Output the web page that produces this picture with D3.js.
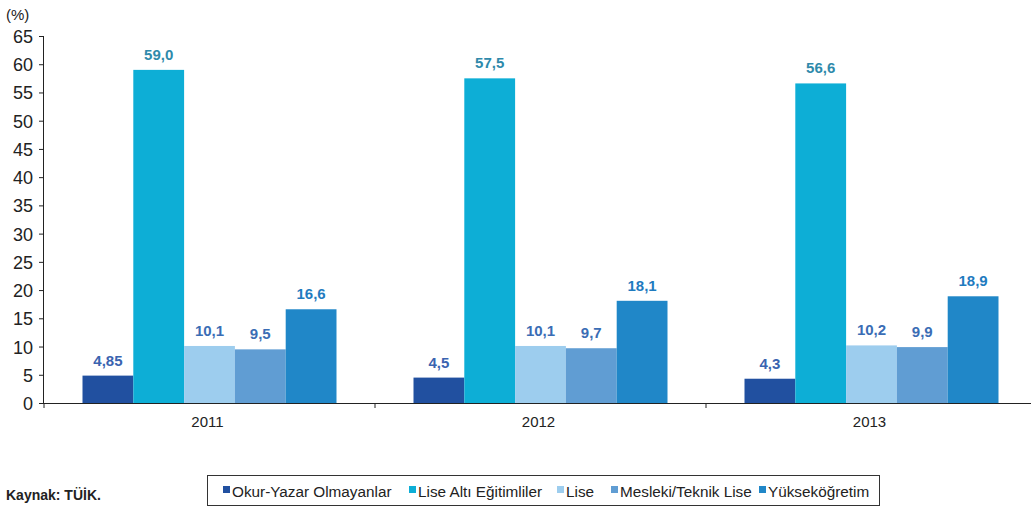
<!DOCTYPE html>
<html><head><meta charset="utf-8">
<script src="https://cdn.jsdelivr.net/npm/d3@7"></script>
<style>body{margin:0;background:#fff;}svg{display:block;font-family:"Liberation Sans",Arial,sans-serif;}</style>
</head><body>
<svg id="c" width="1031" height="508"></svg>
<script>
const years = ["2011","2012","2013"];
const seriesNames = ["Okur-Yazar Olmayanlar","Lise Altı Eğitimliler","Lise","Mesleki/Teknik Lise","Yükseköğretim"];
const okur = [4.85, 4.5, 4.3];
const liseAlti = [59.0, 57.5, 56.6];
const lise = [10.1, 10.1, 10.2];
const mesleki = [9.5, 9.7, 9.9];
const yuksek = [16.6, 18.1, 18.9];
const labelText = [["4,85","4,5","4,3"],["59,0","57,5","56,6"],["10,1","10,1","10,2"],["9,5","9,7","9,9"],["16,6","18,1","18,9"]];
const yTicks = [0,5,10,15,20,25,30,35,40,45,50,55,60,65];
const colors = ["#2150a0","#0daed6","#9dcdee","#609dd3","#2087c8"];
const labelColors = ["#3a64b0","#2f8aab","#3a6db5","#3a6db5","#1f7bbf"];
const series = [okur, liseAlti, lise, mesleki, yuksek];

const svg = d3.select("#c");
const x0 = d3.scaleBand().domain(years).range([44,1037]).paddingInner(0).paddingOuter(0);
const y = d3.scaleLinear().domain([0,65]).range([403,36]);
const x1 = d3.scaleBand().domain(d3.range(5)).range([38.5, x0.bandwidth()-38.5]);

// y axis
const yAx = svg.append("g").attr("transform","translate(44,0)")
  .call(d3.axisLeft(y).tickValues(yTicks).tickSize(5).tickPadding(6));
yAx.selectAll("text").attr("font-size",18).attr("fill","#222").attr("dy","0.36em");
yAx.selectAll("line,path").attr("stroke","#222");
yAx.select("path").attr("d","M-0.5,36V403.5");

svg.append("text").attr("x",6).attr("y",20).attr("font-size",15).attr("fill","#222").text("(%)");

// bars
series.forEach((vals,si)=>{
  const g = svg.append("g");
  g.selectAll("rect").data(years).join("rect")
    .attr("x",d=>x0(d)+x1(si)).attr("width",x1.bandwidth())
    .attr("y",(d,i)=>y(vals[i])).attr("height",(d,i)=>y(0)-y(vals[i]))
    .attr("fill",colors[si]);
  g.selectAll("text").data(years).join("text")
    .attr("x",d=>x0(d)+x1(si)+x1.bandwidth()/2)
    .attr("y",(d,i)=>y(vals[i])-10)
    .attr("text-anchor","middle").attr("font-size",15).attr("font-weight","bold")
    .attr("fill",labelColors[si]).text((d,i)=>labelText[si][i]);
});

// x axis
const xAx = svg.append("g").attr("transform","translate(0,403)");
xAx.append("line").attr("x1",44).attr("x2",1031).attr("y1",0.5).attr("y2",0.5).attr("stroke","#222");
xAx.selectAll("line.t").data(years.slice(1).map(d=>x0(d)).concat([44])).join("line").attr("class","t")
  .attr("x1",d=>d).attr("x2",d=>d).attr("y1",0).attr("y2",5).attr("stroke","#222");
xAx.selectAll("text").data(years).join("text")
  .attr("x",d=>x0(d)+x0.bandwidth()/2 - 2).attr("y",24)
  .attr("text-anchor","middle").attr("font-size",15).attr("fill","#222").text(d=>d);

// source
svg.append("text").attr("x",6).attr("y",500).attr("font-size",14).attr("font-weight","bold").attr("fill","#222").text("Kaynak: TÜİK.");

// legend
svg.append("rect").attr("x",207.5).attr("y",475.5).attr("width",672).attr("height",30).attr("fill","none").attr("stroke","#333");
const legX = [223,409,557,611,759];
seriesNames.forEach((n,i)=>{
  svg.append("rect").attr("x",legX[i]).attr("y",486).attr("width",7).attr("height",7).attr("fill",colors[i]);
  svg.append("text").attr("x",legX[i]+9).attr("y",497).attr("font-size",15.3).attr("fill","#222").text(n);
});
</script>
</body></html>
